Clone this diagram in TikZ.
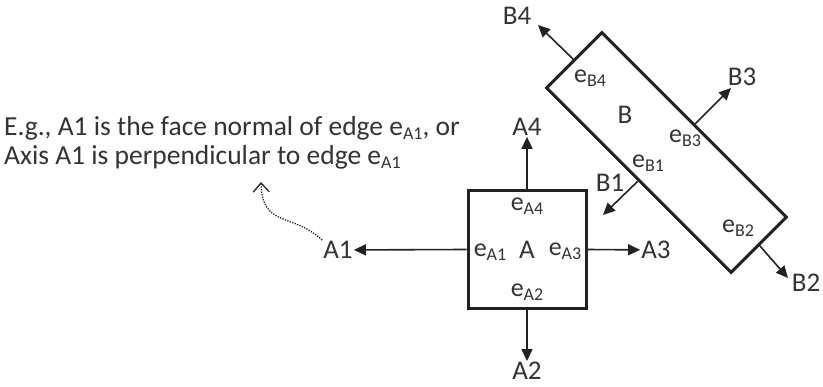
\documentclass[tikz,border=0pt]{standalone}
\usepackage{fontspec}
\setmainfont{Carlito}
\usetikzlibrary{arrows.meta}
\definecolor{figink}{HTML}{222222}
\definecolor{figtext}{HTML}{333333}
\newcommand{\esub}[1]{e\raisebox{-0.35ex}{\fontsize{18}{18}\selectfont #1}}
\tikzset{
  lbl/.style={text=figtext, font=\fontsize{27}{30}\selectfont, inner sep=1pt},
  elbl/.style={text=figtext, font=\fontsize{26}{30}\selectfont, inner sep=0pt},
  note/.style={text=figtext, font=\fontsize{27.5}{29}\selectfont, align=left, inner sep=0pt},
  arr/.style={-{Triangle[length=12pt,width=11pt]}, line width=1.6pt, color=figink},
  body/.style={draw=figink, line width=3pt},
}
\begin{document}
\begin{tikzpicture}[x=1pt, y=-1pt]
  \useasboundingbox (0,0) rectangle (823,387);
  % body A
  \node[body, minimum size=118pt] (sqA) at (527,249.5) {};
  \node[lbl] at (sqA) {A};
  \node[elbl] (eA4) at (527,206) {\esub{A4}};
  \node[elbl] (eA2) at (527,292) {\esub{A2}};
  \node[elbl] (eA1) at (490,252) {\esub{A1}};
  \node[elbl] (eA3) at (565,251) {\esub{A3}};
  \node[lbl] (lA4) at (527,127) {A4};
  \node[lbl] (lA2) at (527,371) {A2};
  \node[lbl] (lA1) at (338,250) {A1};
  \node[lbl] (lA3) at (656,250) {A3};
  \draw[arr] (sqA.north) -- (lA4);
  \draw[arr] (sqA.south) -- (lA2);
  \draw[arr] (sqA.west) -- (lA1);
  \draw[arr] (sqA.east) -- (lA3);
  % body B
  \node[body, minimum width=261pt, minimum height=78pt, rotate=-45] (recB) at (666.5,152.5) {};
  \node[lbl] at (625,115) {B};
  \node[elbl] (eB4) at (590,78) {\esub{B4}};
  \node[elbl] (eB3) at (685,138) {\esub{B3}};
  \node[elbl] (eB1) at (648,163) {\esub{B1}};
  \node[elbl] (eB2) at (738,228) {\esub{B2}};
  \coordinate (tB4) at (538,25);
  \coordinate (tB3) at (731,88);
  \coordinate (tB1) at (603,215);
  \coordinate (tB2) at (788,278);
  \node[lbl] (lB4) at (517,16) {B4};
  \node[lbl] (lB3) at (742,77) {B3};
  \node[lbl] (lB1) at (610,183) {B1};
  \node[lbl] (lB2) at (806,283) {B2};
  \draw[arr] (recB.west) -- (tB4);
  \draw[arr] (recB.north) -- (tB3);
  \draw[arr] (recB.south) -- (tB1);
  \draw[arr] (recB.east) -- (tB2);
  % note
  \node[note, anchor=west] (txt) at (4,142.5) {E.g., A1 is the face normal of edge \esub{A1}, or\\Axis A1 is perpendicular to edge \esub{A1}};
  \coordinate (tNote) at (261,182);
  \draw[figink, line width=1.3pt, dash pattern=on 1.3pt off 1.3pt, -{Straight Barb[length=9pt,width=16pt]}]
    (lA1.north west) .. controls (292,212) and (262,228) .. (tNote);
\end{tikzpicture}
\end{document}
